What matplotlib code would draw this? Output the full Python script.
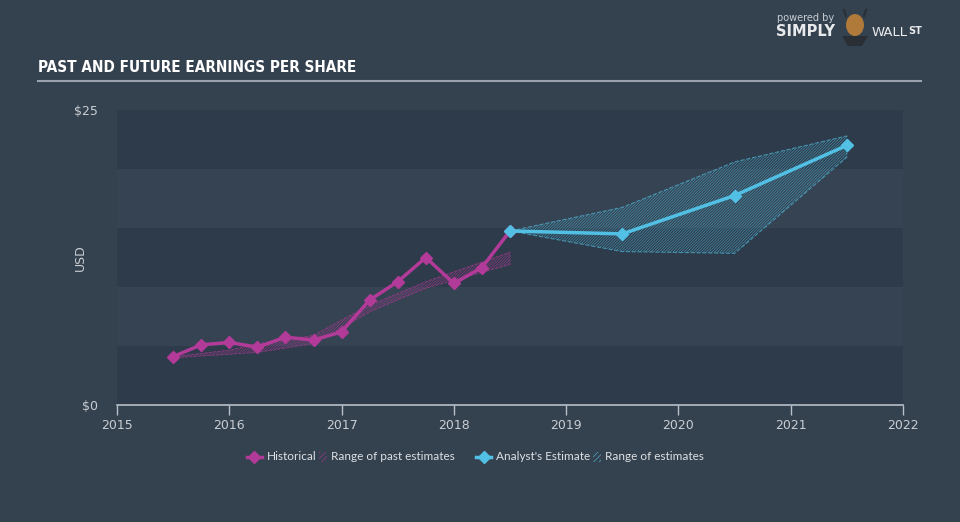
import matplotlib.pyplot as plt
from matplotlib.lines import Line2D
from matplotlib.patches import Rectangle, Ellipse, Polygon
from matplotlib import font_manager
import numpy as np

# historical EPS (quarterly)
hist_x = [2015.5, 2015.75, 2016.0, 2016.25, 2016.5, 2016.75, 2017.0, 2017.25,
          2017.5, 2017.75, 2018.0, 2018.25, 2018.5]
hist_y = [4.1, 5.1, 5.3, 4.9, 5.75, 5.5, 6.2, 8.9, 10.45, 12.5, 10.3, 11.65, 14.75]

# range of past estimates
past_x = [2015.5, 2016.0, 2016.25, 2016.75, 2017.0, 2017.25, 2017.75, 2018.5]
past_hi = [4.1, 4.65, 5.2, 5.9, 7.2, 8.45, 10.45, 12.95]
past_lo = [4.0, 4.3, 4.45, 5.2, 6.5, 7.9, 9.9, 11.9]

# analyst estimates
est_x = [2018.5, 2019.5, 2020.5, 2021.5]
est_y = [14.75, 14.5, 17.75, 22.0]
est_hi = [14.75, 16.75, 20.6, 22.8]
est_lo = [14.75, 13.0, 12.85, 21.0]

years = [2015, 2016, 2017, 2018, 2019, 2020, 2021, 2022]

bg = '#34414f'
dark_band = '#2e3b4a'
light_band = '#354352'
magenta = '#b23a98'
cyan = '#52c0e4'
txt = '#c9ced4'

# look for a condensed bold face for the title
cands = [f.fname for f in font_manager.fontManager.ttflist
         if ('Condensed' in f.fname or 'Narrow' in f.fname) and 'Bold' in f.fname and 'Oblique' not in f.fname
         and 'Italic' not in f.fname]
if cands:
    title_fp = font_manager.FontProperties(fname=sorted(cands)[0], size=11)
else:
    title_fp = font_manager.FontProperties(family='DejaVu Sans', weight='bold', stretch='condensed', size=11)

plt.rcParams['hatch.linewidth'] = 0.5

fig = plt.figure(figsize=(9.6, 5.22), dpi=100, facecolor=bg)
ax = fig.add_axes([117/960, 1-405/522, 786/960, 295/522])
ax.set_facecolor(bg)
ax.set_xlim(2015, 2022)
ax.set_ylim(0, 25)

# horizontal bands
for i, lo in enumerate(range(0, 25, 5)):
    ax.axhspan(lo, lo+5, color=dark_band if i % 2 == 0 else light_band, lw=0, zorder=0)

# past range
plt.rcParams['hatch.color'] = magenta
ax.fill_between(past_x, past_lo, past_hi, facecolor='none', hatch='/'*12,
                edgecolor=magenta, lw=0.6, ls='--', zorder=2, alpha=0.7)

# future range
ax.fill_between(est_x, est_lo, est_hi, facecolor='none', hatch='/'*12,
                edgecolor=cyan, lw=0.8, ls='--', zorder=2, alpha=0.6)

ax.plot(hist_x, hist_y, color=magenta, lw=2.5, marker='D', ms=6, zorder=4)
ax.plot(est_x, est_y, color=cyan, lw=2.5, marker='D', ms=6, zorder=4)

for s in ['top', 'right', 'left']:
    ax.spines[s].set_visible(False)
ax.spines['bottom'].set_color('#b8c0c8')
ax.spines['bottom'].set_linewidth(1.2)
ax.set_xticks(years)
ax.set_xticklabels([str(y) for y in years])
ax.tick_params(axis='x', colors='#b8c0c8', labelcolor=txt, labelsize=9, length=7, width=1, direction='out', pad=3)
ax.set_yticks([0, 25])
ax.set_yticklabels(['$0', '$25'])
ax.tick_params(axis='y', length=0, labelcolor=txt, labelsize=9, pad=14)
ax.set_ylabel('USD', color=txt, fontsize=9)
ax.yaxis.set_label_coords(-0.038, 0.5)

# legend drawn by hand
ly = 1 - 457/522
lf = dict(color='#dde1e5', fontsize=8.5, va='center', family=['Lato', 'DejaVu Sans'])
fig.add_artist(Line2D([247/960, 262/960], [ly, ly], color=magenta, lw=2.5))
fig.add_artist(Line2D([254.5/960], [ly], color=magenta, marker='D', ms=6))
fig.text(267/960, ly, 'Historical', **lf)
fig.add_artist(Line2D([476/960, 491/960], [ly, ly], color=cyan, lw=2.5))
fig.add_artist(Line2D([483.5/960], [ly], color=cyan, marker='D', ms=6))
fig.text(496/960, ly, "Analyst's Estimate", **lf)
for x0, col in [(319, magenta), (593, cyan)]:
    fig.add_artist(Rectangle((x0/960, ly - 5/522), 8/960, 10/522, facecolor='none',
                             edgecolor=col, hatch='/'*6, lw=0, alpha=0.8))
fig.text(331/960, ly, 'Range of past estimates', **lf)
fig.text(605/960, ly, 'Range of estimates', **lf)

# title and rule
fig.text(38/960, 1-68/522, 'PAST AND FUTURE EARNINGS PER SHARE', color='white',
         fontproperties=title_fp, va='center')
fig.add_artist(Line2D([38/960, 921/960], [1-81/522, 1-81/522], color='#9aa3ad', lw=1.5))

# branding
fig.text(777/960, 1-18/522, 'powered by', color='#c9ced4', fontsize=7, va='center')
fig.text(776/960, 1-32/522, 'SIMPLY', color='#e8eaec', fontsize=10.5, fontweight='bold', va='center')
fig.text(872/960, 1-32/522, 'WALL', color='#e8eaec', fontsize=9.5, va='center')
fig.text(908/960, 1-31/522, 'ST', color='#e8eaec', fontsize=7, fontweight='bold', va='center')
fig.add_artist(Polygon([[842/960, 1-36/522], [868/960, 1-36/522], [862/960, 1-46/522], [848/960, 1-46/522]],
                       closed=True, facecolor='#2a2f36', edgecolor='none'))
fig.add_artist(Ellipse((855/960, 1-25/522), 18/960, 22/522, facecolor='#b07a3a', edgecolor='none'))
fig.add_artist(Line2D([846/960, 844/960], [1-16/522, 1-10/522], color='#2a2f36', lw=1.5))
fig.add_artist(Line2D([864/960, 866/960], [1-16/522, 1-10/522], color='#2a2f36', lw=1.5))

fig.savefig('out.png', dpi=100, facecolor=bg)
